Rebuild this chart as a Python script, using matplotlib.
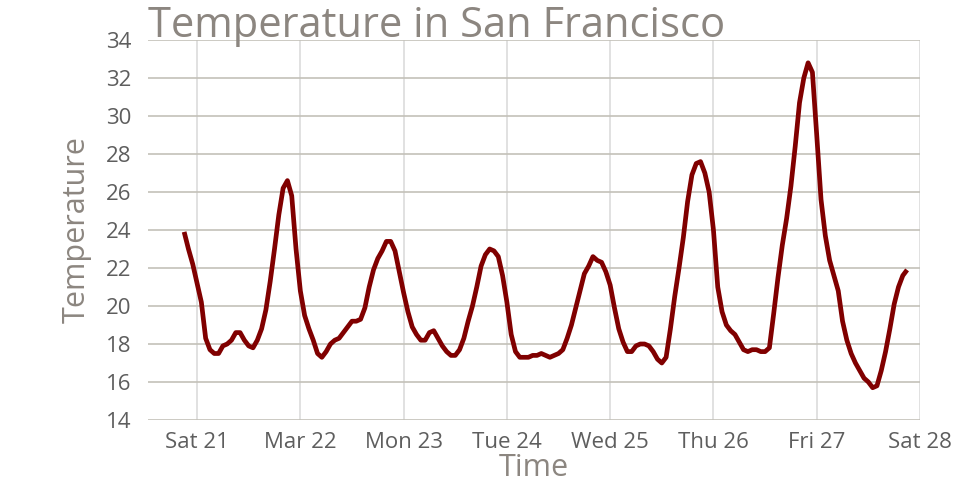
import matplotlib
matplotlib.use("Agg")
import matplotlib.pyplot as plt
import pandas as pd

start_time = "2015-03-20 21:00"
temps = [
    23.9, 23.0, 22.2,
    21.2, 20.2, 18.3, 17.7, 17.5, 17.5, 17.9, 18.0, 18.2, 18.6, 18.6, 18.2,
    17.9, 17.8, 18.2, 18.8, 19.8, 21.3, 23.0, 24.8, 26.2, 26.6, 25.8, 23.0,
    20.8, 19.5, 18.8, 18.2, 17.5, 17.3, 17.6, 18.0, 18.2, 18.3, 18.6, 18.9,
    19.2, 19.2, 19.3, 19.9, 21.0, 21.9, 22.5, 22.9, 23.4, 23.4, 22.9, 21.8,
    20.7, 19.7, 18.9, 18.5, 18.2, 18.2, 18.6, 18.7, 18.3, 17.9, 17.6, 17.4,
    17.4, 17.7, 18.3, 19.2, 20.0, 21.0, 22.1, 22.7, 23.0, 22.9, 22.6, 21.6,
    20.2, 18.5, 17.6, 17.3, 17.3, 17.3, 17.4, 17.4, 17.5, 17.4, 17.3, 17.4,
    17.5, 17.7, 18.3, 19.0, 19.9, 20.8, 21.7, 22.1, 22.6, 22.4, 22.3, 21.8,
    21.1, 19.9, 18.8, 18.1, 17.6, 17.6, 17.9, 18.0, 18.0, 17.9, 17.6, 17.2,
    17.0, 17.3, 18.8, 20.5, 22.0, 23.6, 25.5, 26.9, 27.5, 27.6, 27.0, 26.0,
    24.0, 21.0, 19.7, 19.0, 18.7, 18.5, 18.1, 17.7, 17.6, 17.7, 17.7, 17.6,
    17.6, 17.8, 19.6, 21.5, 23.2, 24.6, 26.3, 28.4, 30.7, 32.0, 32.8, 32.3,
    29.0, 25.6, 23.7, 22.4, 21.6, 20.8, 19.2, 18.2, 17.5, 17.0, 16.6, 16.2,
    16.0, 15.7, 15.8, 16.6, 17.6, 18.8, 20.1, 21.0, 21.6, 21.9,
]
tick_dates = ["2015-03-21", "2015-03-22", "2015-03-23", "2015-03-24",
              "2015-03-25", "2015-03-26", "2015-03-27", "2015-03-28"]
tick_labels = ["Sat 21", "Mar 22", "Mon 23", "Tue 24", "Wed 25", "Thu 26", "Fri 27", "Sat 28"]
y_ticks = list(range(14, 35, 2))

times = pd.date_range(start_time, periods=len(temps), freq="h")

plt.rcParams["font.family"] = ["Open Sans", "DejaVu Sans"]

fig = plt.figure(figsize=(9.6, 5.0), dpi=100)
ax = fig.add_axes([148/960, 80/500, 772/960, 380/500])

ax.plot(times, temps, color="#800000", linewidth=3.4, solid_capstyle="butt",
        solid_joinstyle="round", zorder=3)

ax.set_ylim(14, 34)
ax.set_yticks(y_ticks)
ax.set_xticks(pd.to_datetime(tick_dates))
ax.set_xticklabels(tick_labels)
ax.set_xlim(pd.Timestamp("2015-03-20 12:36"), pd.Timestamp("2015-03-28 00:00"))

for s in ax.spines.values():
    s.set_visible(False)

ax.grid(axis="y", color="#c4c1b9", linewidth=1.2)
ax.grid(axis="x", color="#dcdcdc", linewidth=1.2)
ax.set_axisbelow(True)
ax.tick_params(length=0, labelsize=16, labelcolor="#5e5e5e")
ax.tick_params(axis="x", pad=9)
ax.tick_params(axis="y", pad=12)

ax.set_xlabel("Time", fontsize=22, color="#8c8680")
ax.xaxis.set_label_coords(0.5, -0.088)
ax.set_ylabel("Temperature", fontsize=22, color="#8c8680")
ax.yaxis.set_label_coords(-0.073, 0.5)

fig.text(148/960, 1 - 37/500, "Temperature in San Francisco", fontsize=30,
         color="#8c8680", ha="left", va="baseline")

fig.savefig("out.png", dpi=100)
